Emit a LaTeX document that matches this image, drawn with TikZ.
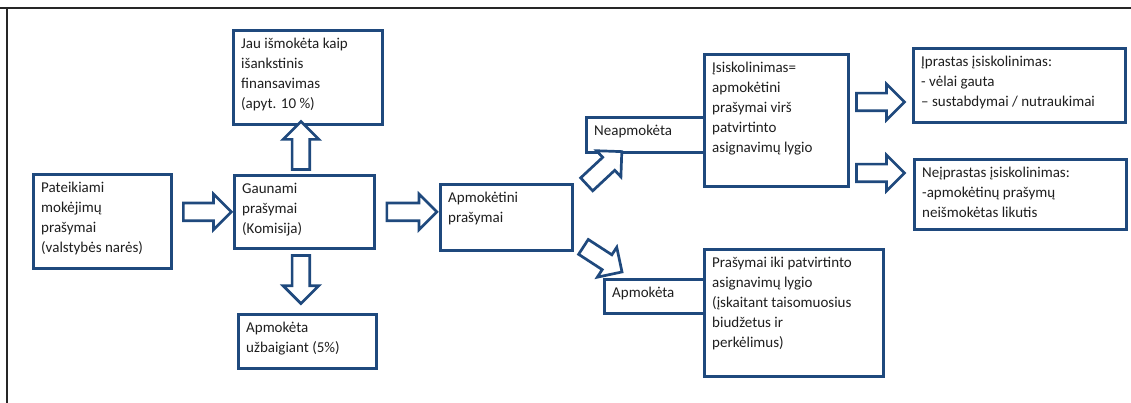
\documentclass[tikz,border=0pt]{standalone}
\usepackage{fontspec}
\setmainfont{Carlito}
\usepackage{tikz}
\usetikzlibrary{shapes.arrows,calc}
\definecolor{boxB}{RGB}{31,73,125}
\definecolor{txtG}{RGB}{30,30,30}

\begin{document}
\begin{tikzpicture}[x=1pt, y=-1pt,
  font=\fontsize{15}{20}\selectfont, text=txtG,
  box/.style={rectangle, draw=boxB, line width=2.9pt, anchor=north west, inner sep=0pt},
  txt/.style={anchor=north west, align=left, inner xsep=9pt, inner ysep=9pt},
  barrow/.style={single arrow, draw=boxB, fill=white, line width=2.7pt, inner sep=7.5pt,
                 single arrow head extend=9pt, single arrow tip angle=90, minimum height=48pt}]

  \useasboundingbox (0,0) rectangle (1131,403);
  % page frame (top and left only)
  \draw[line width=1.8pt, black!85] (0,8) -- (1131,8) (7,8) -- (7,403);

  \node[box, minimum width=138pt, minimum height=94pt,
    label={[txt]north west:Pateikiami\\ mokėjimų\\ prašymai\\ (valstybės narės)}] (pat) at (32,173) {};
  \node[box, minimum width=140pt, minimum height=73pt,
    label={[txt]north west:Gaunami\\ prašymai\\ (Komisija)}] (gaun) at (233,174) {};
  \node[box, minimum width=149pt, minimum height=94pt,
    label={[txt]north west:Jau išmokėta kaip\\ išankstinis\\ finansavimas\\ (apyt. 10 \%)}] (jau) at (232,29) {};
  \node[box, minimum width=138pt, minimum height=54pt,
    label={[txt]north west:Apmokėta\\ užbaigiant (5\%)}] (uzb) at (237,313) {};
  \node[box, minimum width=132pt, minimum height=66pt,
    label={[txt]north west:Apmokėtini\\ prašymai}] (apmt) at (439,183) {};
  \node[box, minimum width=118pt, minimum height=35pt,
    label={[txt]north west:Neapmokėta}] (neap) at (585,116) {};
  \node[box, minimum width=144pt, minimum height=132pt,
    label={[txt]north west:Įsiskolinimas=\\ apmokėtini\\ prašymai virš\\ patvirtinto\\ asignavimų lygio}] (isk) at (703,53) {};
  \node[box, minimum width=100pt, minimum height=34pt,
    label={[txt]north west:Apmokėta}] (apm) at (603,278) {};
  \node[box, minimum width=179pt, minimum height=127pt,
    label={[txt]north west:Prašymai iki patvirtinto\\ asignavimų lygio\\ (įskaitant taisomuosius\\ biudžetus ir\\ perkėlimus)}] (iki) at (703,248) {};
  \node[box, minimum width=212pt, minimum height=74pt,
    label={[txt]north west:Įprastas įsiskolinimas:\\ - vėlai gauta\\ – sustabdymai / nutraukimai}] (ipr) at (912,47) {};
  \node[box, minimum width=212pt, minimum height=70pt,
    label={[txt]north west:Neįprastas įsiskolinimas:\\ -apmokėtinų prašymų\\ neišmokėtas likutis}] (neipr) at (913,158) {};

  % block arrows
  \path (pat.east |- gaun.west) -- node[barrow, sloped] (a1) {} (gaun.west);
  \path (gaun.east) -- node[barrow, sloped, minimum height=50pt] (a2) {} (gaun.east -| apmt.west);
  \path ([xshift=-3.5pt]gaun.north) -- node[barrow, sloped, allow upside down] (a3) {} ([xshift=-3.5pt]gaun.north |- jau.south);
  \path ([xshift=-3.5pt]gaun.south) -- node[barrow, sloped, pos=.4] (a4) {} ([xshift=-3.5pt]gaun.south |- uzb.north);
  \node[barrow, rotate=43] (a5) at (601,171) {};
  \node[barrow, rotate=-33, minimum height=46pt] (a6) at (599,257) {};
  \node[barrow] (a7) at (876,102) {};
  \node[barrow] (a8) at (876,173) {};
\end{tikzpicture}
\end{document}
